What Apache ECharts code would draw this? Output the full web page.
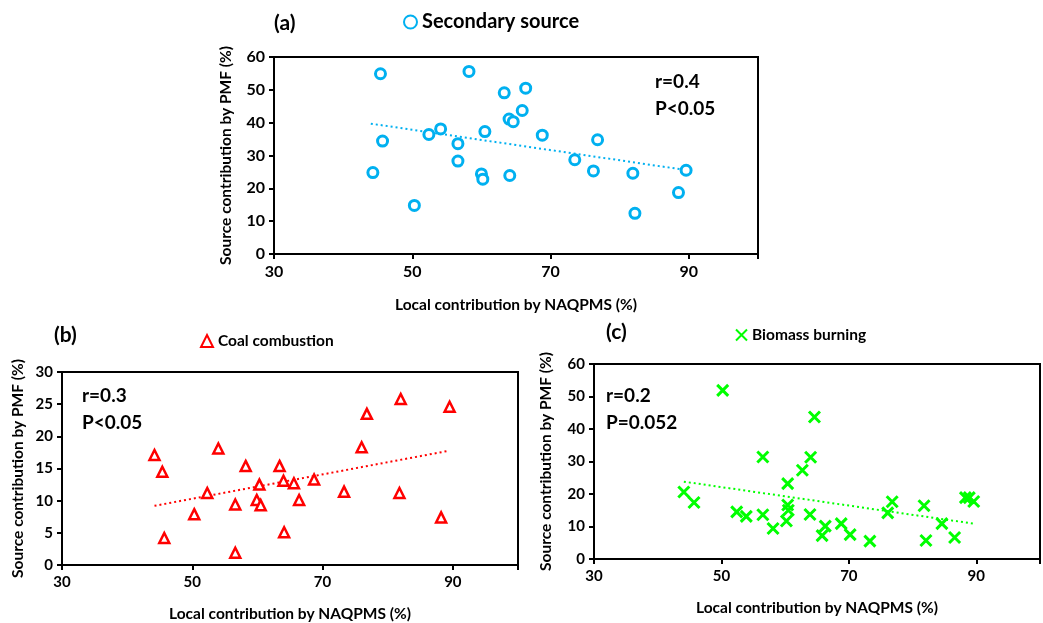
<!DOCTYPE html>
<html>
<head>
<meta charset="utf-8">
<script src="https://cdn.jsdelivr.net/npm/echarts@6/dist/echarts.min.js"></script>
<style>
html,body{margin:0;padding:0;background:#fff;}
#c{width:1043px;height:623px;}
</style>
</head>
<body>
<div id="c"></div>
<script>
// ---- data (x: Local contribution by NAQPMS %, y: Source contribution by PMF %) ----
const secondaryX = [44.3,45.4,45.7,50.3,52.4,54.1,56.6,56.6,58.2,60.0,60.2,60.5,63.3,64.0,64.6,64.1,65.9,66.4,68.8,73.5,76.2,76.8,81.9,82.2,88.5,89.6];
const secondaryY = [24.8,54.9,34.4,14.8,36.4,38.1,33.6,28.3,55.6,24.4,22.8,37.3,49.1,41.1,40.3,23.9,43.7,50.5,36.2,28.7,25.3,34.8,24.6,12.4,18.7,25.5];

const coalX = [44.2,45.4,45.7,50.3,52.3,54.0,56.6,56.6,58.2,59.9,60.3,60.5,63.4,64.0,64.1,65.6,66.4,68.7,73.3,76.0,76.8,81.8,82.0,88.2,89.5];
const coalY = [17.1,14.5,4.2,7.9,11.2,18.1,9.4,1.9,15.4,10.1,12.5,9.3,15.4,13.1,5.1,12.7,10.1,13.3,11.4,18.3,23.5,11.2,25.8,7.4,24.6];

const biomassX = [44.1,45.7,50.2,52.4,53.9,56.5,56.5,58.1,60.2,60.4,60.4,60.5,62.7,63.9,64.0,64.6,65.8,66.3,68.8,70.2,73.3,76.1,76.8,81.8,82.1,84.6,86.6,88.3,88.9,89.6];
const biomassY = [20.6,17.4,51.9,14.5,13.1,31.4,13.6,9.4,11.7,23.2,16.6,15.0,27.3,13.7,31.3,43.7,7.2,10.1,10.9,7.5,5.5,14.2,17.6,16.4,5.7,10.9,6.6,18.9,18.9,17.7];

// linear trend lines (endpoints)
const secondaryTrendX = [44.0, 89.5];
const secondaryTrendY = [39.7, 25.6];
const coalTrendX = [44.2, 89.1];
const coalTrendY = [9.2, 17.7];
const biomassTrendX = [44.1, 89.5];
const biomassTrendY = [23.8, 10.9];

const xTicks = [30, 50, 70, 90];
const yMaxA = 60, yIntA = 10;
const yMaxB = 30, yIntB = 5;
const yMaxC = 60, yIntC = 10;

const statsA = ['r=0.4', 'P<0.05'];
const statsB = ['r=0.3', 'P<0.05'];
const statsC = ['r=0.2', 'P=0.052'];

const xName = 'Local contribution by NAQPMS (%)';
const yName = 'Source contribution by PMF (%)';

const zip = (xs, ys) => xs.map((x, i) => [x, ys[i]]);

const FONT = 'Lato, "Open Sans", sans-serif';

function xAxis(idx, fs, gap) {
  return {
    gridIndex: idx, type: 'value', min: 30, max: 100, interval: 20,
    name: xName, nameLocation: 'middle', nameGap: gap,
    nameTextStyle: {color: '#000', fontWeight: 'bold', fontSize: 15.5, fontFamily: FONT},
    axisLine: {show: true, lineStyle: {color: '#000', width: 2}},
    axisTick: {show: true, length: 5, lineStyle: {color: '#000', width: 2}},
    axisLabel: {color: '#000', fontWeight: 'bold', fontSize: fs, fontFamily: FONT, margin: 10,
      formatter: v => (xTicks.indexOf(v) >= 0 ? String(v) : '')},
    splitLine: {show: false}
  };
}
function yAxis(idx, max, interval, fs, gap) {
  return {
    gridIndex: idx, type: 'value', min: 0, max: max, interval: interval,
    name: yName, nameLocation: 'middle', nameGap: gap,
    nameTextStyle: {color: '#000', fontWeight: 'bold', fontSize: 15.5, fontFamily: FONT},
    axisLine: {show: true, lineStyle: {color: '#000', width: 2}},
    axisTick: {show: true, length: 5, lineStyle: {color: '#000', width: 2}},
    axisLabel: {color: '#000', fontWeight: 'bold', fontSize: fs, fontFamily: FONT, margin: 9},
    splitLine: {show: false}
  };
}

const CROSS = 'path://M0,0L10,10M10,0L0,10';

const chart = echarts.init(document.getElementById('c'), null, {renderer: 'canvas'});
chart.setOption({
  animation: false,
  backgroundColor: '#fff',
  grid: [
    {left: 274, top: 57, width: 484, height: 197, show: true, borderColor: '#000', borderWidth: 2, backgroundColor: 'transparent'},
    {left: 62, top: 372, width: 456, height: 193, show: true, borderColor: '#000', borderWidth: 2, backgroundColor: 'transparent'},
    {left: 594, top: 364, width: 459, height: 195, show: true, borderColor: '#000', borderWidth: 2, backgroundColor: 'transparent'}
  ],
  xAxis: [xAxis(0, 16, 43), xAxis(1, 15, 41), xAxis(2, 15, 41)],
  yAxis: [yAxis(0, yMaxA, yIntA, 16, 40), yAxis(1, yMaxB, yIntB, 15, 36), yAxis(2, yMaxC, yIntC, 15, 40)],
  legend: [
    {data: ['Secondary source'], left: 398, top: 7, itemWidth: 13, itemHeight: 13, itemGap: 4,
      textStyle: {color: '#000', fontWeight: 'bold', fontSize: 20, fontFamily: FONT}},
    {data: ['Coal combustion'], left: 195, top: 328, itemWidth: 12, itemHeight: 12, itemGap: 4,
      textStyle: {color: '#000', fontWeight: 'bold', fontSize: 15.5, fontFamily: FONT}},
    {data: ['Biomass burning'], left: 730, top: 322, itemWidth: 11, itemHeight: 11, itemGap: 4,
      textStyle: {color: '#000', fontWeight: 'bold', fontSize: 15.5, fontFamily: FONT}}
  ],
  graphic: [
    {type: 'text', left: 274, top: 13, style: {text: '(a)', font: 'bold 21px ' + FONT, fill: '#000'}},
    {type: 'text', left: 54, top: 325, style: {text: '(b)', font: 'bold 21px ' + FONT, fill: '#000'}},
    {type: 'text', left: 606, top: 322, style: {text: '(c)', font: 'bold 21px ' + FONT, fill: '#000'}},
    {type: 'text', left: 655, top: 68, style: {text: statsA.join('\n'), font: 'bold 19px ' + FONT, fill: '#000', lineHeight: 27}},
    {type: 'text', left: 82, top: 382, style: {text: statsB.join('\n'), font: 'bold 19px ' + FONT, fill: '#000', lineHeight: 27}},
    {type: 'text', left: 606, top: 382, style: {text: statsC.join('\n'), font: 'bold 19px ' + FONT, fill: '#000', lineHeight: 27}}
  ],
  series: [
    {name: 'Secondary source', type: 'scatter', xAxisIndex: 0, yAxisIndex: 0, symbol: 'circle', symbolSize: 10,
      itemStyle: {color: '#fff', borderColor: '#00B0F0', borderWidth: 3, opacity: 1}, data: zip(secondaryX, secondaryY), z: 3},
    {name: 'trendA', type: 'line', xAxisIndex: 0, yAxisIndex: 0, showSymbol: false, symbol: 'none', silent: true,
      lineStyle: {color: '#00B0F0', width: 2, type: [2, 3]}, data: zip(secondaryTrendX, secondaryTrendY), z: 2},
    {name: 'Coal combustion', type: 'scatter', xAxisIndex: 1, yAxisIndex: 1, symbol: 'triangle', symbolSize: 10,
      itemStyle: {color: '#fff', borderColor: '#FF0000', borderWidth: 2.5, opacity: 1}, data: zip(coalX, coalY), z: 3},
    {name: 'trendB', type: 'line', xAxisIndex: 1, yAxisIndex: 1, showSymbol: false, symbol: 'none', silent: true,
      lineStyle: {color: '#FF0000', width: 2, type: [2, 3]}, data: zip(coalTrendX, coalTrendY), z: 2},
    {name: 'Biomass burning', type: 'scatter', xAxisIndex: 2, yAxisIndex: 2, symbol: CROSS, symbolSize: 11,
      itemStyle: {color: 'rgba(0,0,0,0)', borderColor: '#00FF00', borderWidth: 3, opacity: 1}, data: zip(biomassX, biomassY), z: 3},
    {name: 'trendC', type: 'line', xAxisIndex: 2, yAxisIndex: 2, showSymbol: false, symbol: 'none', silent: true,
      lineStyle: {color: '#00FF00', width: 2, type: [2, 3]}, data: zip(biomassTrendX, biomassTrendY), z: 2}
  ]
});
</script>
</body>
</html>
